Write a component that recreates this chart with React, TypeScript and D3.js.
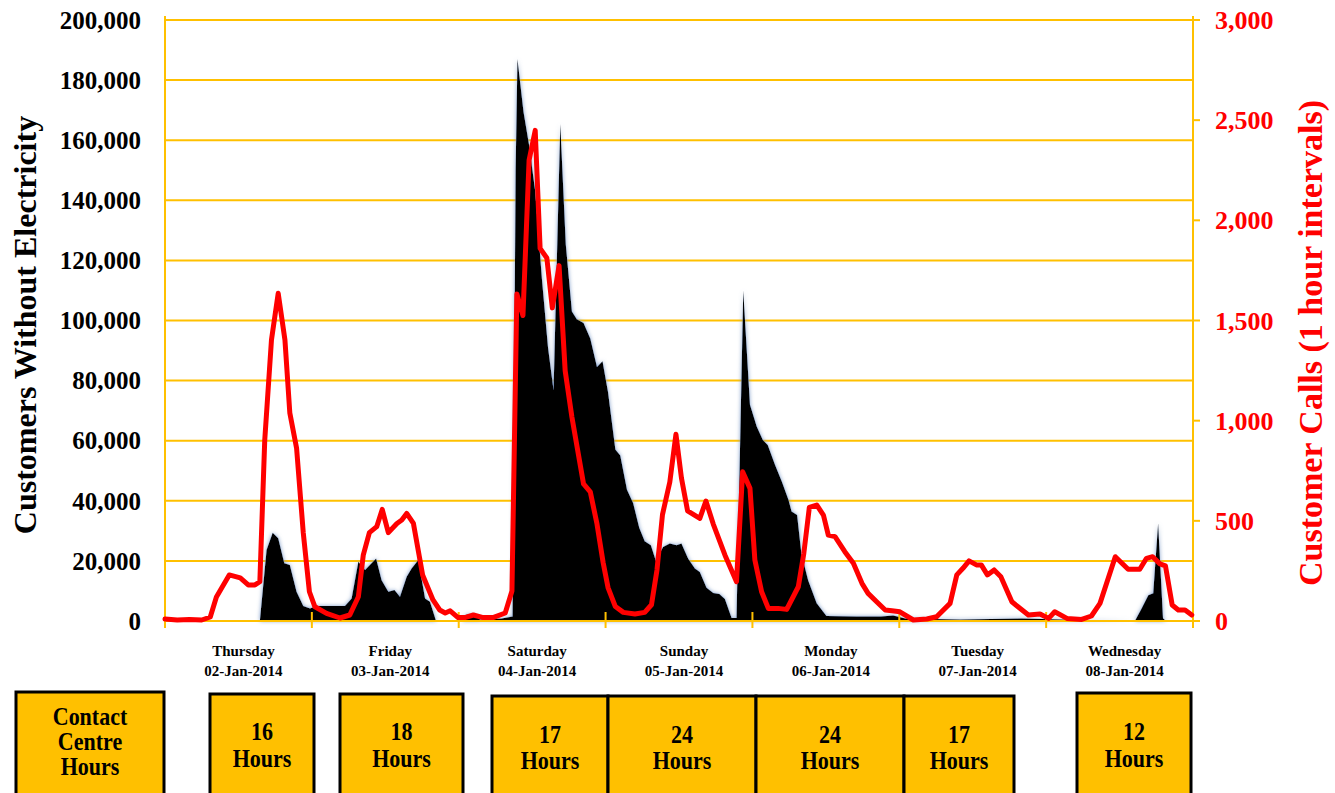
import React from "react";
import * as d3 from "d3";

// ---- data (hour offsets from Thu 02-Jan-2014 00:00) ----
const callHours = [0,2,4,6,7.4,8.4,10.5,12.3,13.6,14.7,15.5,16.3,17.4,18.5,19.6,20.4,21.5,22.6,23.6,24.5,26.4,28.6,30.2,31.6,32.4,33.4,34.6,35.5,36.5,37.9,38.7,39.5,40.6,42.1,43.8,44.9,45.8,46.6,47.9,49,50.4,52,53.6,55.6,56.7,57.5,58.5,59.5,60.5,61.3,62.4,63.3,64.4,65.4,66.5,68.4,69.5,70.6,71.6,72.4,73.6,74.9,76.8,78.4,79.5,80.4,81.3,82.5,83.5,84.4,85.4,87.4,88.4,89.6,91.5,93.4,94.4,95.6,96.4,97.5,98.6,100.2,101.6,103.5,104.4,105.3,106.5,107.6,108.4,109.5,111.1,112.5,113.9,114.9,116.3,117.7,118.8,120.1,122.3,124.5,126.1,128.3,129.4,130.4,131.4,132.6,133.4,134.4,135.5,136.6,138.4,139.4,141.1,143,144.4,145.4,147.4,149.8,151.4,152.8,155.3,157.4,159.3,160.4,161.4,162.6,163.5,164.6,165.6,166.7,167.8];
const callValues = [10,5,8,5,20,120,230,215,180,180,196,903,1403,1636,1403,1038,864,439,146,71,38,15,30,121,329,441,471,557,441,487,504,537,487,230,105,55,40,51,17,17,30,17,17,40,150,1632,1525,2300,2449,1860,1812,1563,1774,1248,1018,684,645,484,292,167,72,43,35,43,81,254,531,694,932,714,550,512,599,484,330,196,745,662,304,146,63,63,58,171,338,567,579,529,429,421,346,288,188,138,96,55,51,46,5,10,21,88,230,263,300,280,280,230,255,221,96,71,30,35,13,46,13,8,25,88,321,258,258,313,321,285,275,80,55,55,30];

const outHours = [0,15.5,16.6,17.6,18.5,19.5,20.4,21.5,22.6,23.7,24.8,29.4,30.5,31.6,32.7,34.5,35.4,36.5,37.5,38.4,39.5,40.3,41.4,42.5,43.3,44.3,48.5,49.3,50.5,51.5,55,56.8,57.3,57.6,58.6,59.5,60.5,61.6,62.6,63.5,64.6,65.5,66.5,67.3,68.4,69.5,70.6,71.5,72.4,73.6,74.4,75.5,76.5,77.5,78.4,79.4,80.2,81.4,82.5,83.6,84.4,85.5,86.6,87.4,88.5,89.6,90.6,91.5,92.6,93.4,94.5,95.6,96.7,97.7,98.5,99.7,100.8,101.9,102.4,103.3,104,105.1,106.5,108.1,113,117,119,121,130,140,150,158.5,159.6,160.7,161.5,162.3,163.1,163.6,168];
const outValues = [0,0,23600,29400,27500,19200,18600,9750,5000,4200,5000,5000,7500,19700,17000,20800,13600,9750,10300,8100,14700,17500,20300,7500,6400,0,0,2200,2000,500,800,1500,150000,187000,169300,158400,143100,113800,90900,76900,165400,125300,103000,100400,99200,94000,84500,86400,76200,57100,55100,43700,39300,31000,26500,25200,20100,24600,25800,25200,25800,20700,17500,16300,11100,9300,9000,7300,1000,1000,110000,72000,64700,60200,58600,51900,46400,40300,36400,35300,22500,13600,5900,1700,1500,1500,1800,800,500,800,300,0,4200,8600,9200,32500,900,0,0];

const dayNames = ["Thursday","Friday","Saturday","Sunday","Monday","Tuesday","Wednesday"];
const dayDates = ["02-Jan-2014","03-Jan-2014","04-Jan-2014","05-Jan-2014","06-Jan-2014","07-Jan-2014","08-Jan-2014"];
const leftTicks = [0,20000,40000,60000,80000,100000,120000,140000,160000,180000,200000];
const rightTicks = [0,500,1000,1500,2000,2500,3000];
const boxTexts = [["Contact","Centre","Hours"],["16","Hours"],["18","Hours"],["17","Hours"],["24","Hours"],["24","Hours"],["17","Hours"],["12","Hours"]];

// ---- layout ----
const BOX_LAYOUT = [
  { x0: 16, x1: 164, top: 692, lines: [725, 750, 775] },
  { x0: 210, x1: 314, top: 694, lines: [740, 767] },
  { x0: 340, x1: 463, top: 694, lines: [740, 767] },
  { x0: 492, x1: 608, top: 696, lines: [743, 769] },
  { x0: 608, x1: 756, top: 696, lines: [743, 769] },
  { x0: 756, x1: 904, top: 696, lines: [743, 769] },
  { x0: 904, x1: 1014, top: 696, lines: [743, 769] },
  { x0: 1077, x1: 1191, top: 693, lines: [740, 767] },
];

const GOLD = "#FFC000";
const SERIF = "'Liberation Serif', 'Times New Roman', serif";

export default function App() {
  const W = 1335, H = 793;
  const L = 165, R = 1193, T = 20, B = 621;
  const x = d3.scaleLinear().domain([0, 168]).range([L, R]);
  const yL = d3.scaleLinear().domain([0, 200000]).range([B, T]);
  const yR = d3.scaleLinear().domain([0, 3000]).range([B, T]);
  const fmt = d3.format(",");

  const outData = outHours.map((h, i) => [h, outValues[i]] as [number, number]);
  const callData = callHours.map((h, i) => [h, callValues[i]] as [number, number]);

  const area = d3.area<[number, number]>()
    .x(d => x(d[0])).y0(B).y1(d => yL(d[1]));
  const line = d3.line<[number, number]>()
    .x(d => x(d[0])).y(d => yR(d[1]));

  return (
    <svg width={W} height={H} style={{ position: "absolute", left: 0, top: 0, background: "#fff" }}
      fontFamily={SERIF} fontWeight="bold">
      <defs>
        <filter id="glow" x="-5%" y="-5%" width="110%" height="110%">
          <feGaussianBlur in="SourceAlpha" stdDeviation="2.2" result="b" />
          <feFlood floodColor="#7f9cc9" result="c" />
          <feComposite in="c" in2="b" operator="in" result="s" />
          <feMerge>
            <feMergeNode in="s" />
            <feMergeNode in="SourceGraphic" />
          </feMerge>
        </filter>
      </defs>

      {/* gridlines */}
      {leftTicks.map(t => (
        <line key={t} x1={L} x2={R} y1={yL(t)} y2={yL(t)} stroke={GOLD} strokeWidth={2} />
      ))}

      {/* outage area */}
      <path d={area(outData) || ""} fill="#000" filter="url(#glow)" />

      {/* axes */}
      <line x1={L} x2={L} y1={T - 4} y2={B + 7} stroke={GOLD} strokeWidth={2} />
      <line x1={R} x2={R} y1={T - 4} y2={B + 7} stroke={GOLD} strokeWidth={2} />
      <line x1={L} x2={R} y1={B} y2={B} stroke={GOLD} strokeWidth={2} />
      {d3.range(0, 8).map(i => (
        <line key={i} x1={x(i * 24)} x2={x(i * 24)} y1={B - 9} y2={B + 7} stroke={GOLD} strokeWidth={2} />
      ))}
      {rightTicks.map(t => (
        <line key={t} x1={R} x2={R + 7} y1={yR(t)} y2={yR(t)} stroke={GOLD} strokeWidth={2} />
      ))}

      {/* calls line */}
      <path d={line(callData) || ""} fill="none" stroke="#FF0000" strokeWidth={5}
        strokeLinejoin="round" strokeLinecap="round" />

      {/* left tick labels */}
      {leftTicks.map(t => (
        <text key={t} x={141} y={yL(t)} dy="0.35em" textAnchor="end" fontSize={25} fill="#000">{fmt(t)}</text>
      ))}
      {/* right tick labels */}
      {rightTicks.map(t => (
        <text key={t} x={1215} y={yR(t)} dy="0.35em" textAnchor="start" fontSize={26} fill="#FF0000">{fmt(t)}</text>
      ))}

      {/* axis titles */}
      <text transform={`translate(36,325) rotate(-90)`} textAnchor="middle" fontSize={32} fill="#000">
        Customers Without Electricity
      </text>
      <text transform={`translate(1322,343) rotate(-90)`} textAnchor="middle" fontSize={34} fill="#FF0000">
        Customer Calls (1 hour intervals)
      </text>

      {/* day labels */}
      {dayNames.map((d, i) => (
        <g key={d} transform={`translate(${x(i * 24 + 12) + 5},0)`}>
          <text y={656} textAnchor="middle" fontSize={15} fill="#000">{d}</text>
          <text y={676} textAnchor="middle" fontSize={15} fill="#000">{dayDates[i]}</text>
        </g>
      ))}

      {/* contact centre boxes */}
      {BOX_LAYOUT.map((b, i) => (
        <g key={i}>
          <rect x={b.x0} y={b.top} width={b.x1 - b.x0} height={H - b.top + 10} fill={GOLD} stroke="#000" strokeWidth={3} />
          {boxTexts[i].map((s, j) => (
            <text key={j} transform={`translate(${(b.x0 + b.x1) / 2},${b.lines[j]}) scale(1,1.1)`}
              textAnchor="middle" fontSize={22} fill="#000">{s}</text>
          ))}
        </g>
      ))}
    </svg>
  );
}
